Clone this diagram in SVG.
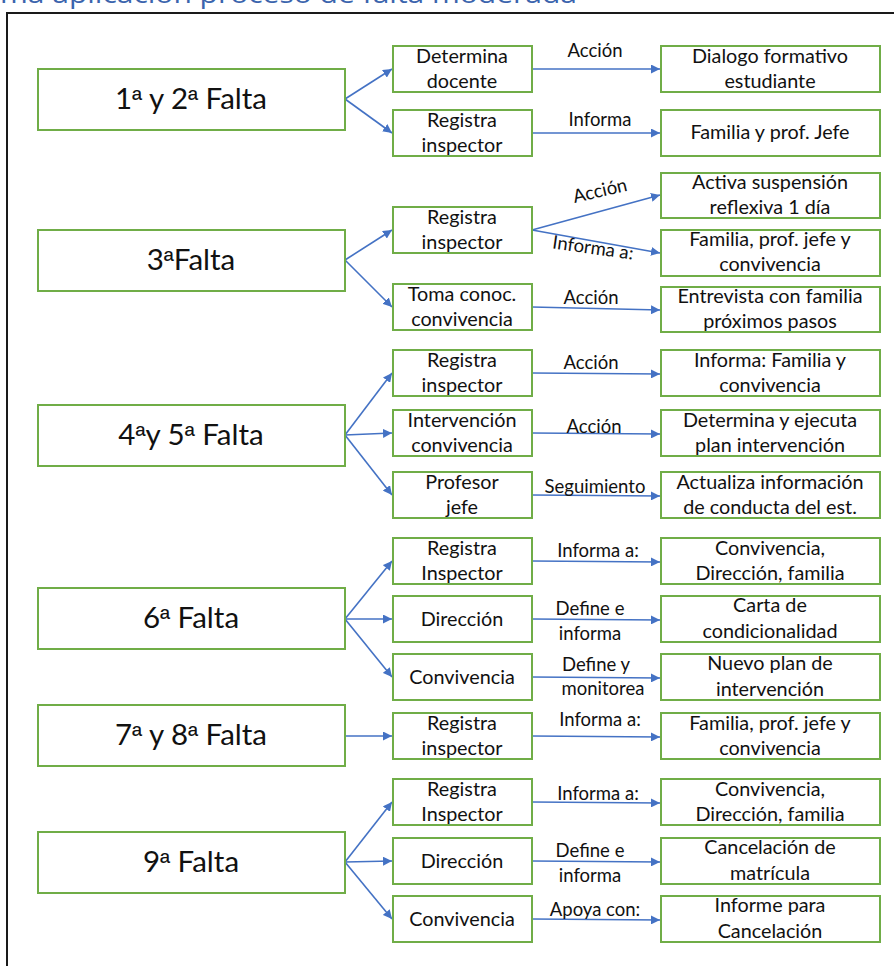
<svg xmlns="http://www.w3.org/2000/svg" width="894" height="966" viewBox="0 0 894 966">
<defs>
<marker id="ah" viewBox="0 0 10 10" refX="10" refY="5" markerWidth="9" markerHeight="9" markerUnits="userSpaceOnUse" orient="auto">
<path d="M0,0 L10,5 L0,10 z" fill="#4472c4"/>
</marker>
<style>
.bx{fill:#fff;stroke:#70ad47;stroke-width:2}
.big{font-family:Lato,"Liberation Sans",sans-serif;font-size:29.5px;fill:#111;text-anchor:middle}
.o{font-family:"Liberation Sans",sans-serif;font-size:27px}
.t{font-family:Lato,"Liberation Sans",sans-serif;font-size:19.8px;fill:#111;text-anchor:middle}
.lb{font-family:Lato,"Liberation Sans",sans-serif;font-size:18.5px;fill:#111;text-anchor:middle}
.c{stroke:#4472c4;stroke-width:1.6;fill:none;marker-end:url(#ah)}
</style>
</defs>
<rect width="894" height="966" fill="#fff"/>
<text x="0" y="3" font-family="'Open Sans',sans-serif" font-size="25" fill="#3b64ad" textLength="577" lengthAdjust="spacingAndGlyphs">ma aplicación proceso de falta moderada</text>
<rect x="7" y="13" width="900" height="1000" fill="none" stroke="#1a1a1a" stroke-width="2"/>

<g id="connectors">
<line class="c" x1="345" y1="99" x2="392" y2="69"/>
<line class="c" x1="345" y1="99" x2="392" y2="133"/>
<line class="c" x1="532" y1="69" x2="660" y2="69"/>
<line class="c" x1="532" y1="133" x2="660" y2="133"/>

<line class="c" x1="345" y1="260" x2="392" y2="230"/>
<line class="c" x1="345" y1="260" x2="392" y2="307"/>
<line class="c" x1="532" y1="230" x2="660" y2="195"/>
<line class="c" x1="532" y1="230" x2="660" y2="253"/>
<line class="c" x1="532" y1="307" x2="660" y2="310"/>

<line class="c" x1="345" y1="435" x2="392" y2="373"/>
<line class="c" x1="345" y1="435" x2="392" y2="433"/>
<line class="c" x1="345" y1="435" x2="392" y2="495"/>
<line class="c" x1="532" y1="373" x2="660" y2="374"/>
<line class="c" x1="532" y1="433" x2="660" y2="434"/>
<line class="c" x1="532" y1="495" x2="660" y2="496"/>

<line class="c" x1="345" y1="619" x2="392" y2="561"/>
<line class="c" x1="345" y1="619" x2="392" y2="619"/>
<line class="c" x1="345" y1="619" x2="392" y2="677"/>
<line class="c" x1="532" y1="561" x2="660" y2="562"/>
<line class="c" x1="532" y1="619" x2="660" y2="620"/>
<line class="c" x1="532" y1="677" x2="660" y2="678"/>

<line class="c" x1="345" y1="736" x2="392" y2="736"/>
<line class="c" x1="532" y1="736" x2="660" y2="737"/>

<line class="c" x1="345" y1="862" x2="392" y2="802"/>
<line class="c" x1="345" y1="862" x2="392" y2="861"/>
<line class="c" x1="345" y1="862" x2="392" y2="919"/>
<line class="c" x1="532" y1="802" x2="660" y2="803"/>
<line class="c" x1="532" y1="861" x2="660" y2="862"/>
<line class="c" x1="532" y1="919" x2="660" y2="920"/>

<g id="labels">
<text class="lb" x="595" y="57">Acción</text>
<text class="lb" x="600" y="126">Informa</text>
<text class="lb" x="600" y="197" transform="rotate(-13 600 191)">Acción</text>
<text class="lb" x="593" y="254" transform="rotate(8 593 248)">Informa a:</text>
<text class="lb" x="591" y="304">Acción</text>
<text class="lb" x="591" y="369">Acción</text>
<text class="lb" x="594" y="433">Acción</text>
<text class="lb" x="595" y="493">Seguimiento</text>
<text class="lb" x="598" y="557">Informa a:</text>
<text class="lb" x="590" y="615">Define e</text>
<text class="lb" x="590" y="640">informa</text>
<text class="lb" x="596" y="671">Define y</text>
<text class="lb" x="603" y="695">monitorea</text>
<text class="lb" x="600" y="726">Informa a:</text>
<text class="lb" x="598" y="800">Informa a:</text>
<text class="lb" x="590" y="857">Define e</text>
<text class="lb" x="590" y="882">informa</text>
<text class="lb" x="595" y="916">Apoya con:</text>
</g>
</g>

<g id="f12"><rect class="bx" x="38" y="69" width="307" height="61"/><text class="big" x="191" y="109">1<tspan class="o">ª</tspan> y 2<tspan class="o">ª</tspan> Falta</text></g>
<g id="f3"><rect class="bx" x="38" y="230" width="307" height="61"/><text class="big" x="191" y="270">3<tspan class="o">ª</tspan>Falta</text></g>
<g id="f45"><rect class="bx" x="38" y="405" width="307" height="61"/><text class="big" x="191" y="445">4<tspan class="o">ª</tspan>y 5<tspan class="o">ª</tspan> Falta</text></g>
<g id="f6"><rect class="bx" x="38" y="588" width="307" height="61"/><text class="big" x="191" y="628">6<tspan class="o">ª</tspan> Falta</text></g>
<g id="f78"><rect class="bx" x="38" y="705" width="307" height="61"/><text class="big" x="191" y="745">7<tspan class="o">ª</tspan> y 8<tspan class="o">ª</tspan> Falta</text></g>
<g id="f9"><rect class="bx" x="38" y="832" width="307" height="61"/><text class="big" x="191" y="872">9<tspan class="o">ª</tspan> Falta</text></g>

<g id="m1a"><rect class="bx" x="393" y="46" width="139" height="46"/><text class="t" x="462" y="63">Determina</text><text class="t" x="462" y="88">docente</text></g>
<g id="m1b"><rect class="bx" x="393" y="110" width="139" height="46"/><text class="t" x="462" y="127">Registra</text><text class="t" x="462" y="152">inspector</text></g>
<g id="m2a"><rect class="bx" x="393" y="207" width="139" height="46"/><text class="t" x="462" y="224">Registra</text><text class="t" x="462" y="249">inspector</text></g>
<g id="m2b"><rect class="bx" x="393" y="284" width="139" height="46"/><text class="t" x="462" y="301">Toma conoc.</text><text class="t" x="462" y="326">convivencia</text></g>
<g id="m3a"><rect class="bx" x="393" y="350" width="139" height="46"/><text class="t" x="462" y="367">Registra</text><text class="t" x="462" y="392">inspector</text></g>
<g id="m3b"><rect class="bx" x="393" y="410" width="139" height="46"/><text class="t" x="462" y="427">Intervención</text><text class="t" x="462" y="452">convivencia</text></g>
<g id="m3c"><rect class="bx" x="393" y="472" width="139" height="46"/><text class="t" x="462" y="489">Profesor</text><text class="t" x="462" y="514">jefe</text></g>
<g id="m4a"><rect class="bx" x="393" y="538" width="139" height="46"/><text class="t" x="462" y="555">Registra</text><text class="t" x="462" y="580">Inspector</text></g>
<g id="m4b"><rect class="bx" x="393" y="596" width="139" height="46"/><text class="t" x="462" y="626">Dirección</text></g>
<g id="m4c"><rect class="bx" x="393" y="654" width="139" height="46"/><text class="t" x="462" y="684">Convivencia</text></g>
<g id="m5"><rect class="bx" x="393" y="713" width="139" height="46"/><text class="t" x="462" y="730">Registra</text><text class="t" x="462" y="755">inspector</text></g>
<g id="m6a"><rect class="bx" x="393" y="779" width="139" height="46"/><text class="t" x="462" y="796">Registra</text><text class="t" x="462" y="821">Inspector</text></g>
<g id="m6b"><rect class="bx" x="393" y="838" width="139" height="46"/><text class="t" x="462" y="868">Dirección</text></g>
<g id="m6c"><rect class="bx" x="393" y="896" width="139" height="46"/><text class="t" x="462" y="926">Convivencia</text></g>

<g id="r1a"><rect class="bx" x="661" y="46" width="219" height="46"/><text class="t" x="770" y="63">Dialogo formativo</text><text class="t" x="770" y="88">estudiante</text></g>
<g id="r1b"><rect class="bx" x="661" y="110" width="219" height="46"/><text class="t" x="770" y="139">Familia y prof. Jefe</text></g>
<g id="r2a"><rect class="bx" x="661" y="173" width="219" height="45"/><text class="t" x="770" y="189">Activa suspensión</text><text class="t" x="770" y="214">reflexiva 1 día</text></g>
<g id="r2b"><rect class="bx" x="661" y="230" width="219" height="46"/><text class="t" x="770" y="246">Familia, prof. jefe y</text><text class="t" x="770" y="271">convivencia</text></g>
<g id="r2c"><rect class="bx" x="661" y="287" width="219" height="45"/><text class="t" x="770" y="303">Entrevista con familia</text><text class="t" x="770" y="328">próximos pasos</text></g>
<g id="r3a"><rect class="bx" x="661" y="350" width="219" height="46"/><text class="t" x="770" y="367">Informa: Familia y</text><text class="t" x="770" y="392">convivencia</text></g>
<g id="r3b"><rect class="bx" x="661" y="410" width="219" height="46"/><text class="t" x="770" y="427">Determina y ejecuta</text><text class="t" x="770" y="452">plan intervención</text></g>
<g id="r3c"><rect class="bx" x="661" y="472" width="219" height="46"/><text class="t" x="770" y="489">Actualiza información</text><text class="t" x="770" y="514">de conducta del est.</text></g>
<g id="r4a"><rect class="bx" x="661" y="538" width="219" height="46"/><text class="t" x="770" y="555">Convivencia,</text><text class="t" x="770" y="580">Dirección, familia</text></g>
<g id="r4b"><rect class="bx" x="661" y="596" width="219" height="46"/><text class="t" x="770" y="612">Carta de</text><text class="t" x="770" y="638">condicionalidad</text></g>
<g id="r4c"><rect class="bx" x="661" y="654" width="219" height="46"/><text class="t" x="770" y="670">Nuevo plan de</text><text class="t" x="770" y="696">intervención</text></g>
<g id="r5"><rect class="bx" x="661" y="713" width="219" height="46"/><text class="t" x="770" y="730">Familia, prof. jefe y</text><text class="t" x="770" y="755">convivencia</text></g>
<g id="r6a"><rect class="bx" x="661" y="779" width="219" height="46"/><text class="t" x="770" y="796">Convivencia,</text><text class="t" x="770" y="821">Dirección, familia</text></g>
<g id="r6b"><rect class="bx" x="661" y="838" width="219" height="46"/><text class="t" x="770" y="854">Cancelación de</text><text class="t" x="770" y="880">matrícula</text></g>
<g id="r6c"><rect class="bx" x="661" y="896" width="219" height="46"/><text class="t" x="770" y="912">Informe para</text><text class="t" x="770" y="938">Cancelación</text></g>
</svg>
